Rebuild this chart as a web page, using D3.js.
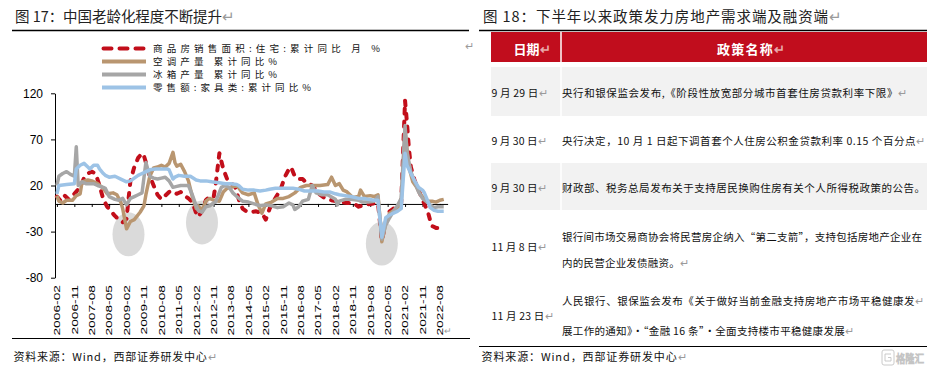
<!DOCTYPE html>
<html>
<head>
<meta charset="utf-8">
<title>图17 / 图18</title>
<script src="https://cdn.jsdelivr.net/npm/d3@7"></script>
<style>
body { margin: 0; background: #fff; }
svg { display: block; font-family: "Liberation Sans", "Noto Sans CJK SC", sans-serif; }
.cjk { font-family: "Noto Sans CJK SC", "Liberation Sans", sans-serif; }
.axis text { font-size: 12px; fill: #000; }
.axis path, .axis line { stroke: #000; }
.series { fill: none; stroke-linejoin: round; }
</style>
</head>
<body>
<svg id="chart" width="930" height="377"></svg>
<script>
// ---- data ----
var salesArea = [ // 商品房销售面积:住宅:累计同比
  ["2006-02",8],["2006-04",3],["2006-06",9],["2006-08",5],["2006-11",11],["2007-02",18],["2007-04",28],
  ["2007-06",33],["2007-08",35],["2007-10",33],["2007-12",20],["2008-02",5],["2008-04",-3],["2008-06",-8],
  ["2008-08",-13],["2008-10",-17],["2008-12",-20],["2009-02",-16],["2009-03",5],["2009-04",25],["2009-06",40],
  ["2009-08",50],["2009-10",55],["2009-11",52],["2009-12",45],["2010-02",30],["2010-04",20],["2010-06",10],
  ["2010-08",5],["2010-10",9],["2010-12",13],["2011-02",14],["2011-04",11],["2011-06",13],["2011-08",9],
  ["2011-10",6],["2011-12",2],["2012-02",-10],["2012-03",-14],["2012-05",-8],["2012-07",4],["2012-09",8],
  ["2012-11",7],["2012-12",20],["2013-02",55],["2013-04",38],["2013-06",27],["2013-08",22],["2013-10",20],
  ["2013-12",5],["2014-02",-5],["2014-04",-8],["2014-06",-9],["2014-09",-8],["2014-12",-10],["2015-02",-17],
  ["2015-04",-5],["2015-06",3],["2015-08",10],["2015-10",18],["2015-12",30],["2016-02",38],["2016-03",40],
  ["2016-05",30],["2016-07",27],["2016-09",27],["2016-11",23],["2017-02",20],["2017-04",15],["2017-06",10],
  ["2017-08",7],["2017-10",5],["2017-12",4],["2018-02",3],["2018-05",2],["2018-08",1],["2018-11",1],
  ["2019-02",-3],["2019-05",-1],["2019-08",0],["2019-12",1],["2020-02",-40],["2020-03",-30],["2020-04",-20],
  ["2020-06",-8],["2020-08",-5],["2020-10",-3],["2020-12",1],["2021-02",112],["2021-03",88],["2021-04",60],
  ["2021-05",40],["2021-07",25],["2021-09",15],["2021-11",5],["2022-02",-10],["2022-03",-18],["2022-04",-24],
  ["2022-06",-26],["2022-08",-26],["2022-10",-25]
];
var acOutput = [ // 空调产量 累计同比
  ["2006-02",9],["2006-03",3],["2006-05",1],["2006-07",4],["2006-10",4],["2006-12",9],["2007-02",11],
  ["2007-03",24],["2007-06",26],["2007-08",25],["2007-11",22],["2008-02",17],["2008-04",11],["2008-07",12],
  ["2008-09",10],["2008-11",2],["2008-12",-5],["2009-02",-27],["2009-04",-19],["2009-06",-17],["2009-09",-9],
  ["2009-11",-2],["2009-12",10],["2010-02",30],["2010-04",39],["2010-06",40],["2010-08",42],["2010-10",40],
  ["2010-12",44],["2011-02",56],["2011-03",45],["2011-04",41],["2011-06",43],["2011-08",35],["2011-10",25],
  ["2011-12",8],["2012-02",-5],["2012-03",-2],["2012-05",-7],["2012-07",3],["2012-09",6],["2012-11",4],
  ["2013-02",3],["2013-04",13],["2013-06",17],["2013-08",18],["2013-11",20],["2014-02",12],["2014-05",10],
  ["2014-08",12],["2014-10",-1],["2014-12",-10],["2015-02",0],["2015-05",2],["2015-08",6],["2015-11",6],
  ["2016-02",8],["2016-05",12],["2016-08",18],["2016-11",20],["2017-02",20],["2017-06",20],["2017-10",21],
  ["2017-12",29],["2018-02",20],["2018-04",22],["2018-06",15],["2018-08",13],["2018-11",7],["2019-02",8],
  ["2019-03",15],["2019-05",8],["2019-08",9],["2019-10",8],["2019-12",10],["2020-02",-41],["2020-04",-21],
  ["2020-06",-10],["2020-09",-6],["2020-12",0],["2021-02",80],["2021-04",40],["2021-06",24],["2021-08",18],
  ["2021-10",10],["2021-12",6],["2022-02",3],["2022-04",3],["2022-06",2],["2022-08",4],["2022-10",5]
];
var fridgeOutput = [ // 冰箱产量 累计同比
  ["2006-02",20],["2006-03",30],["2006-05",33],["2006-07",35],["2006-09",32],["2006-11",30],["2006-12",62],
  ["2007-01",20],["2007-03",24],["2007-05",22],["2007-07",22],["2007-09",22],["2007-11",20],["2008-02",18],
  ["2008-03",17],["2008-05",8],["2008-08",5],["2008-10",4],["2008-12",6],["2009-02",-1],["2009-04",6],
  ["2009-06",8],["2009-08",10],["2009-10",12],["2009-12",45],["2010-02",30],["2010-04",28],["2010-06",27],
  ["2010-08",28],["2010-10",29],["2010-12",25],["2011-02",18],["2011-04",19],["2011-06",20],["2011-08",20],
  ["2011-10",20],["2011-12",10],["2012-02",-2],["2012-03",-7],["2012-05",-9],["2012-07",-3],["2012-09",-2],
  ["2012-11",1],["2012-12",2],["2013-03",18],["2013-05",20],["2013-07",18],["2013-09",12],["2013-11",8],
  ["2014-02",3],["2014-05",2],["2014-08",0],["2014-11",-2],["2015-02",-1],["2015-05",-2],["2015-08",-4],
  ["2015-11",-3],["2016-02",1],["2016-04",-1],["2016-05",-6],["2016-07",-3],["2016-09",3],["2016-12",5],
  ["2017-02",20],["2017-04",12],["2017-07",10],["2017-10",10],["2018-02",5],["2018-03",-1],["2018-04",3],
  ["2018-07",5],["2018-10",5],["2019-02",4],["2019-04",2],["2019-07",2],["2019-10",3],["2019-12",8],
  ["2020-02",-38],["2020-04",-23],["2020-06",-15],["2020-08",-8],["2020-10",-2],["2020-12",6],["2021-02",85],
  ["2021-03",56],["2021-05",35],["2021-07",24],["2021-09",13],["2021-11",6],["2022-02",1],["2022-03",-1],
  ["2022-05",-4],["2022-07",-3],["2022-10",-3]
];
var furnitureSales = [ // 零售额:家具类:累计同比
  ["2006-02",11],["2006-03",20],["2006-07",21],["2006-11",22],["2006-12",38],["2007-02",42],["2007-04",44],
  ["2007-06",40],["2007-07",38],["2007-09",42],["2007-11",42],["2007-12",38],["2008-02",33],["2008-03",31],
  ["2008-05",29],["2008-08",30],["2008-11",27],["2009-02",24],["2009-04",25],["2009-06",28],["2009-08",31],
  ["2009-10",33],["2009-12",35],["2010-02",37],["2010-05",38],["2010-08",38],["2010-11",38],["2010-12",37],
  ["2011-02",27],["2011-03",29],["2011-05",31],["2011-08",30],["2011-11",30],["2012-02",26],["2012-04",25],
  ["2012-07",25],["2012-10",24],["2013-02",23],["2013-05",22],["2013-08",22],["2013-11",21],["2013-12",20],
  ["2014-02",16],["2014-05",15],["2014-08",15],["2014-11",14],["2015-02",15],["2015-04",16],["2015-07",17],
  ["2015-10",17],["2016-02",17],["2016-04",17],["2016-07",16],["2016-10",14],["2017-02",14],["2017-05",14],
  ["2017-08",13],["2017-11",13],["2018-02",11],["2018-04",10],["2018-07",9],["2018-10",8],["2019-02",6],
  ["2019-05",6],["2019-07",5],["2019-10",4],["2019-12",4],["2020-02",-36],["2020-04",-15],["2020-06",-12],
  ["2020-08",-10],["2020-10",-8],["2020-12",-5],["2021-02",55],["2021-03",42],["2021-05",33],["2021-07",25],
  ["2021-09",18],["2021-11",15],["2021-12",12],["2022-02",2],["2022-03",-4],["2022-05",-7],["2022-07",-8],
  ["2022-10",-8]
];
var seriesNames = ["商品房销售面积:住宅:累计同比 月 %", "空调产量 累计同比%", "冰箱产量 累计同比%", "零售额:家具类:累计同比%"];
var yTicks = [-80, -30, 20, 70, 120];
var xTickLabels = ["2006-02","2006-11","2007-08","2008-05","2009-02","2009-11","2010-08","2011-05","2012-02",
  "2012-11","2013-08","2014-05","2015-02","2015-11","2016-08","2017-05","2018-02","2018-11","2019-08",
  "2020-05","2021-02","2021-11","2022-08"];
var highlights = [["2009-03",-33],["2012-05",-20],["2020-02",-43]]; // grey circles

var policyDates = ["9 月 29 日", "9 月 30 日", "9 月 30 日", "11 月 8 日", "11 月 23 日"];
var policyTexts = [
  ["央行和银保监会发布,《阶段性放宽部分城市首套住房贷款利率下限》"],
  ["央行决定，10 月 1 日起下调首套个人住房公积金贷款利率 0.15 个百分点"],
  ["财政部、税务总局发布关于支持居民换购住房有关个人所得税政策的公告。"],
  ["银行间市场交易商协会将民营房企纳入“第二支箭”，支持包括房地产企业在", "内的民营企业发债融资。"],
  ["人民银行、银保监会发布《关于做好当前金融支持房地产市场平稳健康发", "展工作的通知》·“金融 16 条”·全面支持楼市平稳健康发展"]
];

// ---- helpers ----
function mi(s) { var p = s.split("-"); return (+p[0] - 2006) * 12 + (+p[1] - 2); }
var RET = "\u21B5";

var svg = d3.select("#chart");
svg.append("rect").attr("width", 930).attr("height", 377).attr("fill", "#fff");

function label(g, opts) {
  var t = g.append("text").attr("class", "cjk")
    .attr("x", opts.x).attr("y", opts.y)
    .style("font-size", opts.size + "px")
    .style("font-weight", opts.bold ? "bold" : null)
    .attr("fill", opts.color || "#111");
  t.append("tspan").text(opts.text);
  if (opts.mark) t.append("tspan").attr("fill", opts.markColor || "#9a9a9a").text(RET);
  if (opts.len) t.attr("textLength", opts.len).attr("lengthAdjust", "spacing");
  return t;
}

// ---- left panel: titles & rules ----
label(svg, {x: 15, y: 22, size: 14.5, text: "图 17：中国老龄化程度不断提升", mark: true, len: 220, color: "#222"});
svg.append("line").attr("x1", 12).attr("x2", 469).attr("y1", 30.5).attr("y2", 30.5).attr("stroke", "#000").attr("stroke-width", 1.3);
svg.append("line").attr("x1", 12).attr("x2", 470).attr("y1", 338.5).attr("y2", 338.5).attr("stroke", "#000").attr("stroke-width", 1.2);
label(svg, {x: 13.5, y: 361, size: 11, text: "资料来源：Wind，西部证券研发中心", mark: true, len: 203});
svg.append("text").attr("x", 465).attr("y", 50).attr("fill", "#9a9a9a").style("font-size", "11px").text(RET);

// ---- chart ----
var x = d3.scaleLinear().domain([-1, 202]).range([55, 447.6]);
var y = d3.scaleLinear().domain([-80, 120]).range([277.7, 93.3]);

var plot = svg.append("g");

plot.selectAll("ellipse").data(highlights).enter().append("ellipse")
  .attr("cx", function (d) { return x(mi(d[0])); })
  .attr("cy", function (d) { return y(d[1]); })
  .attr("rx", 16).attr("ry", 22)
  .attr("fill", "#DADADA");

plot.append("g").attr("class", "axis")
  .attr("transform", "translate(55,0)")
  .call(d3.axisLeft(y).tickValues(yTicks).tickSize(4).tickSizeOuter(0).tickPadding(8)
    .tickFormat(function (d) { return String(d); }));

plot.append("g").attr("class", "axis")
  .attr("transform", "translate(0," + y(0) + ")")
  .call(d3.axisBottom(x).tickValues(xTickLabels.map(mi)).tickSize(3).tickSizeOuter(0).tickFormat(""));

plot.append("g").selectAll("text").data(xTickLabels).enter().append("text")
  .attr("transform", function (d) { return "translate(" + x(mi(d)) + ",285) rotate(-90) scale(1.45,1)"; })
  .attr("text-anchor", "end").attr("dy", "0.35em")
  .style("font-size", "9.5px").attr("fill", "#000")
  .text(function (d) { return d; });
svg.append("text").attr("x", 444).attr("y", 334).attr("fill", "#9a9a9a").style("font-size", "9px").text(RET);

var line = d3.line()
  .x(function (d) { return x(mi(d[0])); })
  .y(function (d) { return y(d[1]); });

var styles = [
  {color: "#C20E1A", width: 4, dash: "5,8", cap: "round"},
  {color: "#B99670", width: 3.5},
  {color: "#A6A6A6", width: 3.5},
  {color: "#9DC3E6", width: 3.5}
];
var allSeries = [salesArea, acOutput, fridgeOutput, furnitureSales];

allSeries.forEach(function (s, i) {
  plot.append("path").datum(s).attr("class", "series")
    .attr("d", line)
    .attr("stroke", styles[i].color)
    .attr("stroke-width", styles[i].width)
    .attr("stroke-dasharray", styles[i].dash || null)
    .attr("stroke-linecap", styles[i].cap || "butt");
});

// legend
var legendY = [48.5, 61.5, 74.5, 87.5];
var legendLen = [227, 124, 124, 158];
var legend = svg.append("g");
seriesNames.forEach(function (name, i) {
  legend.append("line")
    .attr("x1", i === 0 ? 103.5 : 102).attr("x2", i === 0 ? 143.5 : 146)
    .attr("y1", legendY[i]).attr("y2", legendY[i])
    .attr("stroke", styles[i].color).attr("stroke-width", 4)
    .attr("stroke-dasharray", i === 0 ? "8,8" : null)
    .attr("stroke-linecap", i === 0 ? "round" : "butt");
  label(legend, {x: 153, y: legendY[i] + 3.4, size: 9.5, text: name, len: legendLen[i]});
});

// ---- right panel: table ----
label(svg, {x: 483, y: 22, size: 14.5, text: "图 18：下半年以来政策发力房地产需求端及融资端", mark: true, len: 359, color: "#222"});
svg.append("line").attr("x1", 479).attr("x2", 927).attr("y1", 30.5).attr("y2", 30.5).attr("stroke", "#000").attr("stroke-width", 1.3);
svg.append("line").attr("x1", 479).attr("x2", 927).attr("y1", 346.5).attr("y2", 346.5).attr("stroke", "#000").attr("stroke-width", 1.2);
label(svg, {x: 481.5, y: 361, size: 11, text: "资料来源：Wind，西部证券研发中心", mark: true, len: 205});

var tbl = svg.append("g");
var colX = [491, 561, 927];
// header + shaded rows: [top, bottom]
var bands = [[32, 62, "#C10D1D"], [67, 116, "#F2F2F2"], [163, 210, "#F2F2F2"]];
bands.forEach(function (b) {
  tbl.append("rect").attr("x", colX[0]).attr("y", b[0]).attr("width", colX[2] - colX[0]).attr("height", b[1] - b[0]).attr("fill", b[2]);
  tbl.append("line").attr("x1", colX[1]).attr("x2", colX[1]).attr("y1", b[0]).attr("y2", b[1]).attr("stroke", "#fff").attr("stroke-width", 1.5);
});
label(tbl, {x: 513.5, y: 53.5, size: 13, bold: true, text: "日期", mark: true, markColor: "#e9a9a9", len: 37, color: "#fff"});
label(tbl, {x: 717, y: 53.5, size: 13, bold: true, text: "政策名称", mark: true, markColor: "#e9a9a9", len: 68, color: "#fff"});

var dateLayout = [[97, 56], [144.5, 55], [192, 55], [251, 55], [320, 62]];
var textLayout = [
  [[97, 345, true]],
  [[144.5, 363, true]],
  [[192, 363, false]],
  [[241, 360, false], [266.5, 127, true]],
  [[304.5, 362, true], [334.5, 292, true]]
];
policyDates.forEach(function (d, i) {
  label(tbl, {x: 491.5, y: dateLayout[i][0], size: 10.5, text: d, mark: true, len: dateLayout[i][1]});
  policyTexts[i].forEach(function (t, j) {
    var L = textLayout[i][j];
    label(tbl, {x: 562, y: L[0], size: 10.5, text: t, mark: L[2], len: L[1]});
  });
});

// watermark
var wm = svg.append("g").attr("fill", "none").attr("stroke", "#c4c4c4").attr("stroke-width", 0.9);
wm.append("rect").attr("x", 882).attr("y", 350).attr("width", 12).attr("height", 15).attr("rx", 2);
wm.append("path").attr("d", "M891,354 H885 V361 H891 V357.5 H888");
wm.append("text").attr("class", "cjk").attr("x", 896).attr("y", 363)
  .style("font-size", "11.5px").attr("textLength", 28).attr("lengthAdjust", "spacingAndGlyphs")
  .attr("fill", "#fff").text("格隆汇");
</script>
</body>
</html>
